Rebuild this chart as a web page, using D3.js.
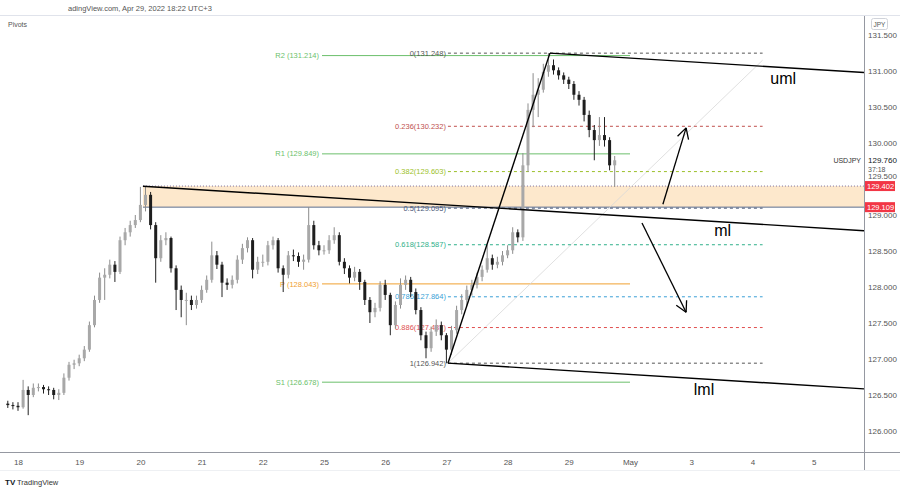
<!DOCTYPE html>
<html>
<head>
<meta charset="utf-8">
<script src="https://cdn.jsdelivr.net/npm/d3@7"></script>
<style>
body { margin: 0; background: #fff; }
text { font-family: "Liberation Sans", Arial, sans-serif; }
</style>
</head>
<body>
<svg width="900" height="492"></svg>
<script>
// USDJPY 2h bars, Apr 17 evening -> Apr 29 18:00 (trading hours from Apr 18 00:00)
var firstHour = -4, barHours = 2, firstOpen = 126.38;

var closes = [126.36,126.35,126.33,126.57,126.50,126.60,126.61,126.58,126.57,126.50,
126.53,126.74,126.92,126.94,127.01,127.13,127.47,127.82,128.13,128.17,
128.31,128.21,128.65,128.76,128.86,128.93,129.14,129.28,128.86,128.40,
128.65,128.68,128.26,127.96,127.82,127.82,127.75,127.82,127.96,128.10,
128.44,128.31,128.06,128.03,128.10,128.38,128.54,128.65,128.24,128.35,
128.35,128.58,128.65,128.26,128.17,128.44,128.43,128.35,128.38,128.86,
128.58,128.51,128.51,128.65,128.72,128.35,128.26,128.13,128.21,128.07,
127.82,127.65,127.71,128.03,127.89,127.47,127.75,128.03,128.10,127.93,
127.68,127.33,127.15,127.38,127.47,127.33,127.13,127.40,127.68,127.82,
127.96,128.03,128.14,128.24,128.40,128.31,128.35,128.44,128.51,128.76,
128.69,129.69,130.46,130.67,130.74,130.99,131.08,131.01,130.94,130.88,
130.82,130.67,130.60,130.39,130.18,130.04,130.11,130.04,129.69,129.76];

var highs = [126.42,126.40,126.40,126.71,126.62,126.66,126.66,126.64,126.62,126.60,
126.58,126.80,126.96,126.99,127.06,127.18,127.52,127.88,128.20,128.26,
128.38,128.36,128.70,128.82,128.92,129.00,129.39,129.40,129.32,128.90,
128.72,128.76,128.70,128.30,128.02,127.92,127.88,127.88,128.02,128.16,
128.63,128.50,128.35,128.12,128.16,128.44,128.60,128.69,128.68,128.42,
128.45,128.64,128.70,128.68,128.30,128.50,128.52,128.48,128.45,129.11,
128.92,128.64,128.58,128.72,128.83,128.76,128.40,128.30,128.28,128.25,
128.10,127.86,127.78,128.08,128.10,127.92,127.80,128.12,128.16,128.14,
127.98,127.72,127.38,127.45,127.55,127.52,127.36,127.46,127.74,127.90,
128.02,128.10,128.20,128.30,128.58,128.45,128.42,128.50,128.58,128.83,
128.80,129.86,130.55,130.97,130.90,131.10,131.25,131.16,131.05,130.98,
130.92,130.86,130.72,130.64,130.45,130.25,130.36,130.36,130.08,129.82];

var lows = [126.32,126.30,126.28,126.31,126.22,126.47,126.55,126.52,126.50,126.44,
126.43,126.50,126.70,126.86,126.90,126.97,127.10,127.44,127.78,127.82,
128.12,128.07,128.18,128.58,128.70,128.82,128.90,129.05,128.80,128.06,
128.35,128.58,128.20,127.68,127.58,127.47,127.68,127.70,127.78,127.92,
128.06,128.25,127.86,127.96,127.98,128.05,128.32,128.48,128.12,128.18,
128.28,128.30,128.52,128.20,127.93,128.12,128.36,128.28,128.24,128.34,
128.52,128.44,128.45,128.46,128.60,128.30,128.18,128.05,128.08,127.96,
127.75,127.50,127.58,127.66,127.82,127.33,127.42,127.70,127.96,127.86,
127.62,127.26,127.01,127.10,127.32,127.26,126.94,127.06,127.35,127.62,
127.74,127.88,127.98,128.08,128.20,128.24,128.26,128.30,128.40,128.46,
128.62,128.64,129.60,130.22,130.36,130.70,130.92,130.95,130.88,130.82,
130.75,130.60,130.52,130.30,130.08,129.76,129.96,129.95,129.62,129.39];

var dayLabels = ["18","19","20","21","22","25","26","27","28","29","May","3","4","5"];
var priceTicks = [126, 126.5, 127, 127.5, 128, 128.5, 129, 129.5, 130, 130.5, 131, 131.5];

var pivotNames = ["R2", "R1", "P", "S1"];
var pivotPrices = [131.214, 129.849, 128.043, 126.678];
var pivotColors = ["#6cbf6c", "#6cbf6c", "#f0a030", "#6cbf6c"];

var fibLevels = ["0", "0.236", "0.382", "0.5", "0.618", "0.786", "0.886", "1"];
var fibPrices = [131.248, 130.232, 129.603, 129.095, 128.587, 127.864, 127.437, 126.942];
var fibColors = ["#555555", "#c0504d", "#9cbf2a", "#4a5878", "#2fb08a", "#3a9fd6", "#e05050", "#555555"];

var zonePrices = [129.402, 129.109];
var lastPrice = 129.760;

// pitchfork anchors (trading hour, price)
var forkHours = [49, 208.6, 168.6];
var forkPrices = [129.40, 131.248, 126.942];
var forkNames = ["uml", "ml", "lml"];
var forkLabelHours = [295, 273, 265];
var forkLabelPrices = [130.90, 128.78, 126.58];

// arrows: [fromHour, fromPrice, toHour, toPrice]
var arrowUp = [252.9, 129.15, 262, 130.21];
var arrowDown = [244.7, 128.89, 262, 127.65];

var svg = d3.select("svg");
var plotRight = 864, plotBottom = 452;

var x = d3.scaleLinear().domain([0, 24]).range([18, 79.2]);
var y = d3.scaleLinear().domain([126, 131.5]).range([431, 35]);

var bars = closes.map(function(c, i) {
    return { t: firstHour + barHours * i, o: i ? closes[i - 1] : firstOpen, c: c, h: highs[i], l: lows[i] };
});

// header
svg.append("line").attr("x1", 0).attr("x2", 900).attr("y1", 15.5).attr("y2", 15.5).style("stroke", "#e0e3eb");
svg.append("text").attr("x", 68).attr("y", 11).text("adingView.com, Apr 29, 2022 18:22 UTC+3")
    .style("font-size", "7.5px").style("fill", "#555");
svg.append("text").attr("x", 8).attr("y", 27).text("Pivots").style("font-size", "7px").style("fill", "#555");

// supply/demand zone
var zoneX = x(forkHours[0]);
svg.append("rect").attr("x", zoneX).attr("y", y(zonePrices[0]))
    .attr("width", plotRight - zoneX).attr("height", y(zonePrices[1]) - y(zonePrices[0]))
    .style("fill", "#fde8cc");
svg.append("line").attr("x1", zoneX).attr("x2", plotRight).attr("y1", y(zonePrices[0])).attr("y2", y(zonePrices[0]))
    .style("stroke", "#7d6f9c").style("stroke-dasharray", "1,2");
svg.append("line").attr("x1", zoneX).attr("x2", plotRight).attr("y1", y(zonePrices[1])).attr("y2", y(zonePrices[1]))
    .style("stroke", "#5d6f8f");

// pivots
pivotPrices.forEach(function(p, i) {
    svg.append("line").attr("x1", x(120) - 2).attr("x2", x(240)).attr("y1", y(p)).attr("y2", y(p))
        .style("stroke", pivotColors[i]).style("stroke-width", 1);
    svg.append("text").attr("x", x(120) - 5).attr("y", y(p)).attr("dy", "0.35em")
        .attr("text-anchor", "end").text(pivotNames[i] + " (" + p.toFixed(3) + ")")
        .style("font-size", "7.5px").style("fill", pivotColors[i]);
});

// fibonacci retracement
var fibStart = x(forkHours[2]), fibEnd = x(292);
svg.append("line").attr("x1", fibStart).attr("y1", y(fibPrices[7])).attr("x2", fibEnd).attr("y2", y(131.15))
    .style("stroke", "#d8d8d8").style("stroke-width", 0.8);
fibPrices.forEach(function(p, i) {
    svg.append("line").attr("x1", fibStart).attr("x2", fibEnd).attr("y1", y(p)).attr("y2", y(p))
        .style("stroke", fibColors[i]).style("stroke-dasharray", "3,3");
    svg.append("text").attr("x", fibStart - 2).attr("y", y(p)).attr("dy", "0.35em")
        .attr("text-anchor", "end").text(fibLevels[i] + "(" + p.toFixed(3) + ")")
        .style("font-size", "7.5px").style("fill", fibColors[i]);
});

// candles
var candles = svg.selectAll("g.candle").data(bars).enter().append("g").attr("class", "candle");
candles.append("line")
    .attr("x1", function(d) { return x(d.t); }).attr("x2", function(d) { return x(d.t); })
    .attr("y1", function(d) { return y(d.h); }).attr("y2", function(d) { return y(d.l); })
    .style("stroke", function(d) { return d.c >= d.o ? "#8c8c8c" : "#222"; });
candles.append("rect")
    .attr("x", function(d) { return x(d.t) - 1.5; })
    .attr("width", 3)
    .attr("y", function(d) { return y(Math.max(d.o, d.c)); })
    .attr("height", function(d) { return Math.max(1, Math.abs(y(d.o) - y(d.c))); })
    .style("fill", function(d) { return d.c >= d.o ? "#a8a8a8" : "#1e1e1e"; });

// pitchfork
var p0 = [x(forkHours[0]), y(forkPrices[0])];
var p1 = [x(forkHours[1]), y(forkPrices[1])];
var p2 = [x(forkHours[2]), y(forkPrices[2])];
var mid = [(p1[0] + p2[0]) / 2, (p1[1] + p2[1]) / 2];
var slope = (mid[1] - p0[1]) / (mid[0] - p0[0]);
function extend(pt) { return [plotRight, pt[1] + slope * (plotRight - pt[0])]; }
[[p1, p2], [p1, extend(p1)], [p0, extend(p0)], [p2, extend(p2)]].forEach(function(seg) {
    svg.append("line").attr("x1", seg[0][0]).attr("y1", seg[0][1]).attr("x2", seg[1][0]).attr("y2", seg[1][1])
        .style("stroke", "#000").style("stroke-width", 1.4);
});
forkNames.forEach(function(n, i) {
    svg.append("text").attr("x", x(forkLabelHours[i])).attr("y", y(forkLabelPrices[i])).attr("dy", "0.35em")
        .text(n).style("font-size", "16px").style("fill", "#000");
});

// arrows
function arrow(a) {
    var x1 = x(a[0]), y1 = y(a[1]), x2 = x(a[2]), y2 = y(a[3]);
    var ang = Math.atan2(y2 - y1, x2 - x1), len = 12, spread = 0.5;
    svg.append("line").attr("x1", x1).attr("y1", y1).attr("x2", x2).attr("y2", y2)
        .style("stroke", "#000").style("stroke-width", 1.3);
    [ang + Math.PI - spread, ang + Math.PI + spread].forEach(function(b) {
        svg.append("line").attr("x1", x2).attr("y1", y2)
            .attr("x2", x2 + len * Math.cos(b)).attr("y2", y2 + len * Math.sin(b))
            .style("stroke", "#000").style("stroke-width", 1.3);
    });
}
arrow(arrowUp);
arrow(arrowDown);

// axes frame
svg.append("rect").attr("x", plotRight).attr("y", 16).attr("width", 900 - plotRight).attr("height", 454).style("fill", "#fff");
svg.append("line").attr("x1", plotRight + 0.5).attr("x2", plotRight + 0.5).attr("y1", 16).attr("y2", 470).style("stroke", "#9598a1");
svg.append("line").attr("x1", 0).attr("x2", 900).attr("y1", plotBottom + 0.5).attr("y2", plotBottom + 0.5).style("stroke", "#9598a1");
svg.append("line").attr("x1", 0).attr("x2", 900).attr("y1", 470.5).attr("y2", 470.5).style("stroke", "#eef0f3");

// price axis
var yAxis = d3.axisRight(y).tickValues(priceTicks).tickFormat(d3.format(".3f")).tickSize(0).tickPadding(4);
var gy = svg.append("g").attr("transform", "translate(" + plotRight + ",0)").call(yAxis);
gy.select(".domain").remove();
gy.selectAll("text").style("font-size", "8px").style("fill", "#555").style("font-family", "Liberation Sans, Arial, sans-serif");
// 129.500 sits partly behind the zone label, as in the original
gy.selectAll(".tick").filter(function(d) { return d === 129.5; }).select("text").attr("dy", "-0.1em");

// time axis
var xAxis = d3.axisBottom(x).tickValues(d3.range(dayLabels.length).map(function(d) { return d * 24; }))
    .tickFormat(function(d, i) { return dayLabels[i]; }).tickSize(0).tickPadding(7);
var gx = svg.append("g").attr("transform", "translate(0," + plotBottom + ")").call(xAxis);
gx.select(".domain").remove();
gx.selectAll("text").style("font-size", "8px").style("fill", "#555").style("font-family", "Liberation Sans, Arial, sans-serif");

// JPY box
svg.append("rect").attr("x", 871.5).attr("y", 18.5).attr("width", 16).attr("height", 11).attr("rx", 2)
    .style("fill", "#fff").style("stroke", "#d0d3da");
svg.append("text").attr("x", 879.5).attr("y", 26.5).attr("text-anchor", "middle").text("JPY")
    .style("font-size", "6.5px").style("fill", "#555");

// last price
svg.append("rect").attr("x", plotRight + 1).attr("y", y(lastPrice) - 6).attr("width", 35).attr("height", 17).style("fill", "#fff");
svg.append("text").attr("x", 868).attr("y", y(lastPrice)).attr("dy", "0.35em").text(lastPrice.toFixed(3))
    .style("font-size", "8px").style("fill", "#131722");
svg.append("text").attr("x", 868).attr("y", y(lastPrice) + 9).attr("dy", "0.35em").text("37:18")
    .style("font-size", "7px").style("fill", "#555");
svg.append("text").attr("x", 861).attr("y", y(lastPrice)).attr("dy", "0.35em").attr("text-anchor", "end")
    .text("USDJPY").style("font-size", "7px").style("fill", "#333");

// zone price labels
zonePrices.forEach(function(p) {
    svg.append("rect").attr("x", plotRight + 1).attr("y", y(p) - 5).attr("width", 30).attr("height", 10).style("fill", "#f23645");
    svg.append("text").attr("x", 867).attr("y", y(p)).attr("dy", "0.35em").text(p.toFixed(3))
        .style("font-size", "7.5px").style("fill", "#fff");
});

// footer
svg.append("text").attr("x", 5).attr("y", 485).text("TV").style("font-size", "8px").style("font-weight", "bold").style("fill", "#131722");
svg.append("text").attr("x", 17).attr("y", 485).text("TradingView").style("font-size", "7.5px").style("fill", "#333");
</script>
</body>
</html>
